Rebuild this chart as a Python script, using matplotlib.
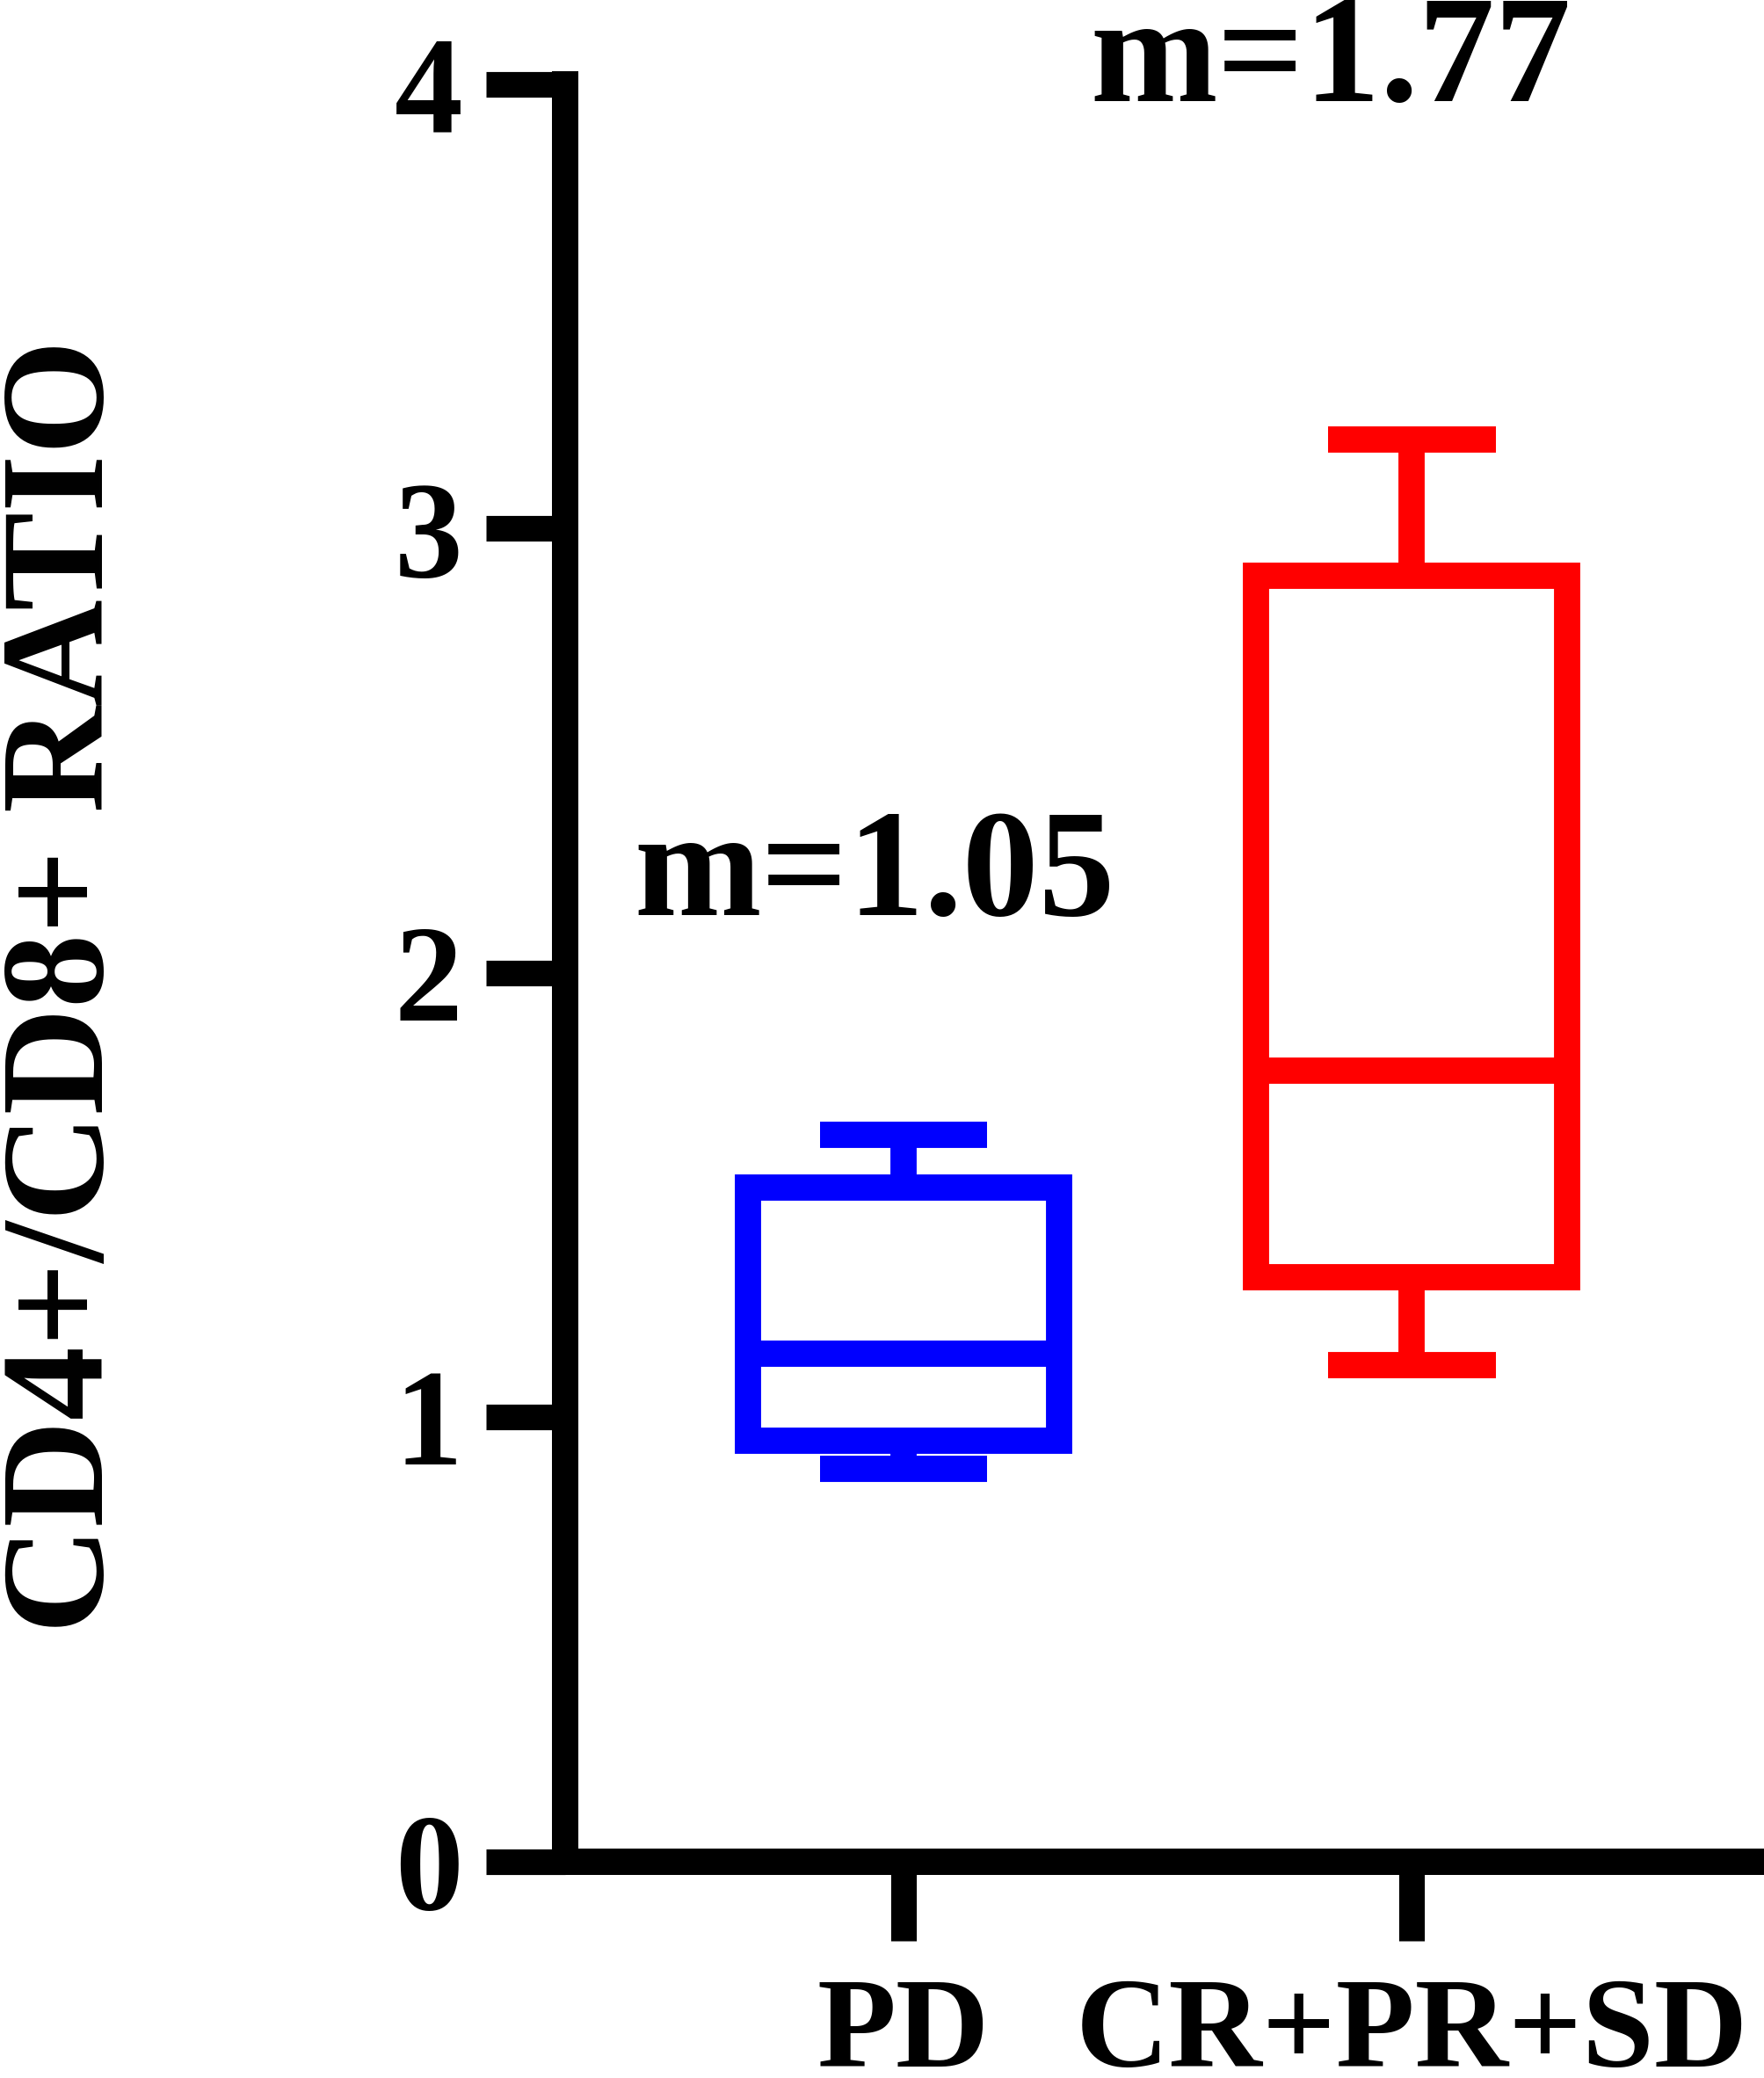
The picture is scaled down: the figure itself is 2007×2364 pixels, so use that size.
import matplotlib
matplotlib.use("Agg")
import matplotlib.pyplot as plt

# ---- data ----
categories = ['PD', 'CR+PR+SD']
whislo = [0.884, 1.116]
q1 = [0.946, 1.315]
med = [1.142, 1.780]
q3 = [1.517, 2.894]
whishi = [1.636, 3.199]
box_colors = ['#0000FF', '#FF0000']
median_labels = ['m=1.05', 'm=1.77']
yticks = [0, 1, 2, 3, 4]
ylabel = 'CD4+/CD8+ RATIO'

plt.rcParams['font.family'] = ['Liberation Serif', 'DejaVu Serif']
plt.rcParams['font.weight'] = 'bold'

W, H = 2008, 2364
fig = plt.figure(figsize=(W / 100, H / 100), dpi=100)
x0, x1 = 643, 2008
y_top, y_bot = 95.5, 2117.5
ax = fig.add_axes([x0 / W, (H - y_bot) / H, (x1 - x0) / W, (y_bot - y_top) / H])

positions = [1, 2]
lw = 21.5
for i in range(2):
    st = [dict(med=med[i], q1=q1[i], q3=q3[i], whislo=whislo[i], whishi=whishi[i],
               fliers=[], label=categories[i])]
    c = box_colors[i]
    ax.bxp(st, positions=[positions[i]], widths=0.6125, capwidths=0.33,
           showfliers=False, patch_artist=True,
           boxprops=dict(facecolor='none', edgecolor=c, linewidth=lw, joinstyle='miter'),
           medianprops=dict(color=c, linewidth=lw, solid_capstyle='butt'),
           whiskerprops=dict(color=c, linewidth=lw, solid_capstyle='butt'),
           capprops=dict(color=c, linewidth=lw, solid_capstyle='butt'),
           manage_ticks=False)

ax.set_xlim(0.334, 2.695)
ax.set_ylim(0, 4)
ax.set_yticks(yticks)
ax.set_yticklabels([str(t) for t in yticks])
ax.set_xticks(positions)
ax.set_xticklabels(categories)

for s in ['top', 'right']:
    ax.spines[s].set_visible(False)
for s in ['left', 'bottom']:
    ax.spines[s].set_linewidth(21.6)
    ax.spines[s].set_capstyle('projecting')
    ax.spines[s].set_color('black')

ax.tick_params(axis='both', length=65, width=21, color='black')
ax.tick_params(axis='y', labelsize=112, pad=19)
ax.tick_params(axis='x', labelsize=106, pad=30)
for lab in ax.get_xticklabels() + ax.get_yticklabels():
    lab.set_fontweight('bold')

# median annotations
ax.text(0.943, 2.130, median_labels[0], fontsize=125, fontweight='bold',
        ha='center', va='baseline')
ax.text(1.841, 3.961, median_labels[1], fontsize=125, fontweight='bold',
        ha='center', va='baseline', clip_on=False)

fig.text(117 / W, (H - 1122) / H, ylabel, fontsize=121, fontweight='bold',
         rotation=90, rotation_mode='anchor', ha='center', va='baseline')

fig.savefig('out.png', dpi=100, facecolor='white')
